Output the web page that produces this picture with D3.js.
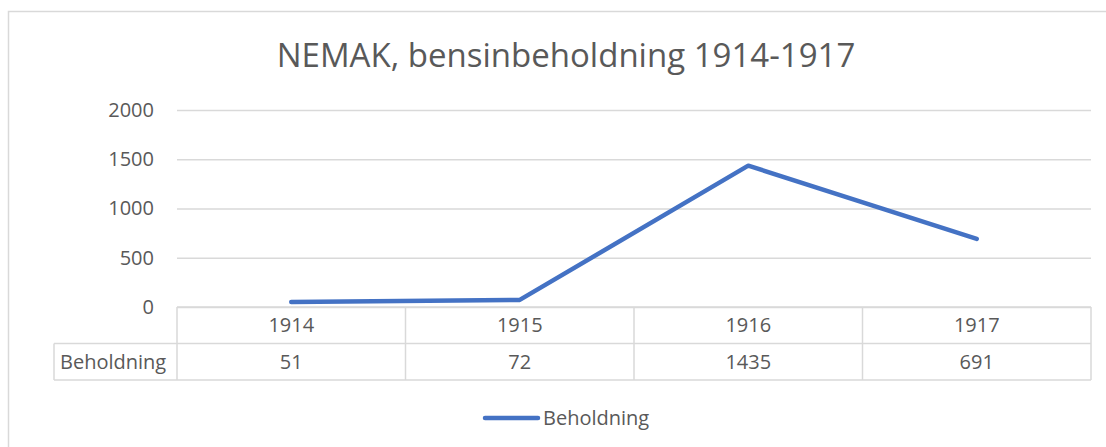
<!DOCTYPE html>
<html>
<head>
<meta charset="utf-8">
<script src="https://cdn.jsdelivr.net/npm/d3@7"></script>
<style>
  body { margin: 0; background: #fff; }
  svg text { font-family: "Open Sans", sans-serif; fill: #595959; }
</style>
</head>
<body>
<svg width="1106" height="447"></svg>
<script>
const years = ["1914", "1915", "1916", "1917"]
const beholdning = [51, 72, 1435, 691]
const yTicks = [0, 500, 1000, 1500, 2000]
const seriesName = "Beholdning"
const title = "NEMAK, bensinbeholdning 1914-1917"

const svg = d3.select("svg")
const grey = "#d9d9d9"
const blue = "#4472c4"

// chart area border (runs off right and bottom)
svg.append("rect")
    .attr("x", 8.5).attr("y", 11.5)
    .attr("width", 1200).attr("height", 500)
    .attr("fill", "none")
    .attr("stroke", grey)
    .attr("stroke-width", 1.5)

svg.append("text")
    .attr("x", 566).attr("y", 67)
    .attr("text-anchor", "middle")
    .attr("font-size", 33)
    .text(title)

const scaleX = d3.scaleBand()
    .domain(years)
    .range([177, 1091])
const scaleY = d3.scaleLinear()
    .domain([0, 2000])
    .range([307, 110])

const axisY = d3.axisLeft(scaleY)
    .tickValues(yTicks)
    .tickFormat(d3.format("d"))
    .tickSize(-(1091 - 177))
    .tickPadding(23)

const yGroup = svg.append("g")
    .attr("class", "y-axis")
    .attr("transform", "translate(177,0)")
    .call(axisY)
yGroup.select(".domain").remove()
yGroup.selectAll(".tick line").attr("stroke", grey).attr("stroke-width", 1.5)
yGroup.selectAll(".tick text")
    .attr("font-size", 20)
    .attr("fill", "#595959")
    .attr("font-family", "Open Sans, sans-serif")

// data table
const tTop = 307, rowH = 36.5, labelLeft = 54
const table = svg.append("g").attr("class", "table")
    .attr("stroke", grey).attr("stroke-width", 1.5).attr("fill", "none")
table.append("line").attr("x1", 177).attr("x2", 1091).attr("y1", tTop).attr("y2", tTop)
table.append("line").attr("x1", labelLeft).attr("x2", 1091).attr("y1", tTop + rowH).attr("y2", tTop + rowH)
table.append("line").attr("x1", labelLeft).attr("x2", 1091).attr("y1", tTop + 2 * rowH).attr("y2", tTop + 2 * rowH)
table.append("line").attr("x1", labelLeft).attr("x2", labelLeft).attr("y1", tTop + rowH).attr("y2", tTop + 2 * rowH)
table.selectAll("line.col")
    .data(years.map(y => scaleX(y)).concat([1091]))
    .enter().append("line")
    .attr("class", "col")
    .attr("x1", d => d).attr("x2", d => d)
    .attr("y1", tTop).attr("y2", tTop + 2 * rowH)

svg.selectAll("text.year")
    .data(years)
    .enter().append("text")
    .attr("class", "year")
    .attr("x", d => scaleX(d) + scaleX.bandwidth() / 2)
    .attr("y", tTop + rowH / 2)
    .attr("dy", "0.35em")
    .attr("text-anchor", "middle")
    .attr("font-size", 20)
    .text(d => d)

svg.selectAll("text.val")
    .data(beholdning)
    .enter().append("text")
    .attr("class", "val")
    .attr("x", (d, i) => scaleX(years[i]) + scaleX.bandwidth() / 2)
    .attr("y", tTop + rowH * 1.5)
    .attr("dy", "0.35em")
    .attr("text-anchor", "middle")
    .attr("font-size", 20)
    .text(d => d)

svg.append("text")
    .attr("x", 60).attr("y", tTop + rowH * 1.5)
    .attr("dy", "0.35em")
    .attr("font-size", 20)
    .text(seriesName)

// the series line
const line = d3.line()
    .x((d, i) => scaleX(years[i]) + scaleX.bandwidth() / 2)
    .y(d => scaleY(d))

svg.append("path")
    .datum(beholdning)
    .attr("d", line)
    .attr("fill", "none")
    .attr("stroke", blue)
    .attr("stroke-width", 4.5)
    .attr("stroke-linecap", "round")
    .attr("stroke-linejoin", "round")

// legend
svg.append("line")
    .attr("x1", 485).attr("x2", 538)
    .attr("y1", 418).attr("y2", 418)
    .attr("stroke", blue)
    .attr("stroke-width", 4.5)
    .attr("stroke-linecap", "round")
svg.append("text")
    .attr("x", 543).attr("y", 418)
    .attr("dy", "0.35em")
    .attr("font-size", 20)
    .text(seriesName)
</script>
</body>
</html>
